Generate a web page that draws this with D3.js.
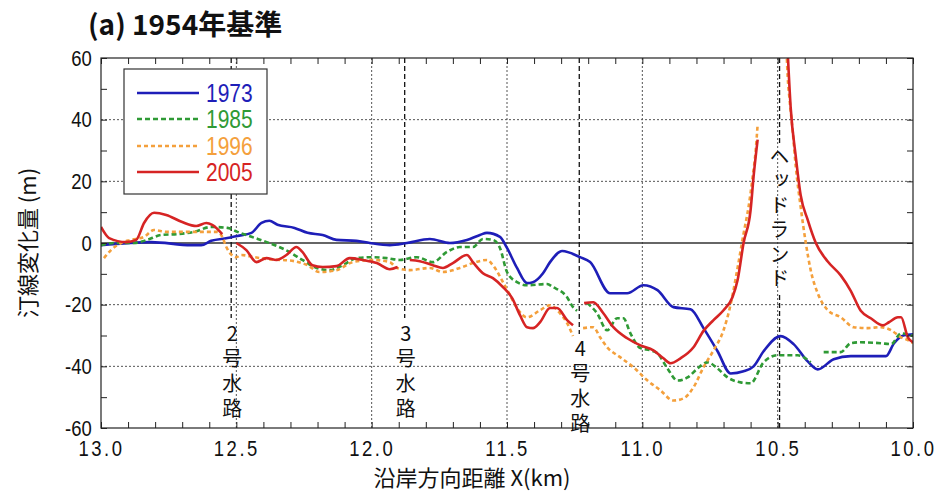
<!DOCTYPE html>
<html><head><meta charset="utf-8">
<script src="https://cdn.jsdelivr.net/npm/d3@7/dist/d3.min.js"></script>
<style>body{margin:0;background:#fff}svg{display:block}
.vt{writing-mode:vertical-rl;text-orientation:upright;}</style>
</head><body>
<svg id="chart" width="940" height="491"></svg>
<script>
// ---------------- data ----------------
const years = ["1973", "1985", "1996", "2005"];
const seriesColors = ["#1e1eb8", "#2f9a35", "#f4a03c", "#d62424"];

// [X (km), shoreline change (m)]; null = gap
const s1973 = [[13.0,-0.7],[12.815,0.3],[12.667,-0.7],[12.63,-0.7],[12.593,0.7],[12.533,1.6],[12.496,2.3],[12.444,3.3],[12.407,6.5],[12.378,7.2],[12.348,5.9],[12.285,4.9],[12.237,3.3],[12.181,2.6],[12.13,1.0],[12.056,0.7],[12.007,0],[11.933,-0.7],[11.87,0],[11.785,1.3],[11.711,0],[11.648,1.0],[11.6,2.6],[11.574,3.3],[11.526,2.0],[11.5,-1.6],[11.463,-8.1],[11.426,-13.0],[11.404,-12.7],[11.367,-9.8],[11.341,-6.2],[11.296,-2.6],[11.23,-4.6],[11.193,-6.2],[11.119,-16.3],[11.056,-16.3],[10.996,-13.7],[10.944,-15.3],[10.885,-20.8],[10.822,-21.5],[10.774,-27.6],[10.722,-35.1],[10.674,-42.3],[10.626,-41.6],[10.589,-40.0],[10.552,-35.1],[10.489,-30.2],[10.441,-32.8],[10.389,-38.4],[10.352,-41.0],[10.293,-37.7],[10.23,-36.7],[10.1,-36.7],[10.07,-32.5],[10.033,-29.9],[10.0,-29.6]];

const s1985 = [[13.0,-0.7],[12.952,0],[12.878,0],[12.83,1.0],[12.778,2.6],[12.719,2.9],[12.656,3.6],[12.593,5.2],[12.533,4.9],[12.496,3.6],[12.444,2.0],[12.378,0],[12.304,-2.9],[12.256,-5.5],[12.204,-8.1],[12.156,-8.8],[12.107,-7.2],[12.056,-4.9],[11.996,-4.6],[11.944,-4.9],[11.896,-5.5],[11.833,-4.6],[11.774,-6.2],[11.722,-2.9],[11.674,-1.3],[11.626,-1.3],[11.589,1.3],[11.552,1.0],[11.526,-1.6],[11.5,-9.4],[11.463,-12.7],[11.426,-13.7],[11.352,-13.3],[11.33,-14.3],[11.278,-17.6],[11.256,-20.8],[11.241,-22.0],[11.225,null],[11.204,-19.5],[11.167,-22.8],[11.13,-28.3],[11.093,-24.4],[11.07,-24.4],[11.044,-29.3],[11.007,-34.1],[10.97,-34.8],[10.944,-35.8],[10.907,-40.7],[10.87,-44.6],[10.833,-43.6],[10.796,-40.7],[10.759,-38.7],[10.722,-40.7],[10.685,-43.6],[10.637,-45.2],[10.6,-45.5],[10.552,-38.7],[10.5,-36.4],[10.426,-36.4],[10.378,-38.7],[10.355,null],[10.33,-35.4],[10.267,-35.4],[10.23,-32.5],[10.193,-32.2],[10.119,-32.5],[10.081,-32.8],[10.044,-29.3],[10.0,-30.2]];

const s1996 = [[12.989,-4.9],[12.963,-2.3],[12.926,0],[12.889,1.0],[12.841,2.0],[12.804,4.2],[12.756,3.6],[12.704,3.6],[12.619,3.6],[12.57,3.6],[12.552,2.0],[12.537,-1.3],[12.5,-4.6],[12.481,-3.9],[12.433,-4.6],[12.385,-5.2],[12.333,-5.5],[12.285,-5.9],[12.237,-7.2],[12.193,-9.4],[12.13,-8.8],[12.07,-6.2],[11.996,-5.5],[11.933,-6.2],[11.907,-8.1],[11.859,-8.8],[11.785,-8.1],[11.737,-9.4],[11.674,-8.1],[11.626,-6.5],[11.574,-5.5],[11.552,-7.2],[11.515,-12.7],[11.489,-16.9],[11.463,-21.1],[11.426,-24.1],[11.378,-21.8],[11.341,-20.2],[11.304,-22.8],[11.278,-26.0],[11.256,-30.2],[11.235,null],[11.219,-27.6],[11.181,-27.3],[11.156,-30.6],[11.13,-33.8],[11.081,-37.1],[11.033,-40.3],[10.981,-44.6],[10.933,-47.8],[10.885,-51.1],[10.848,-50.4],[10.811,-46.8],[10.774,-40.3],[10.737,-34.8],[10.7,-28.3],[10.674,-20.0],[10.648,-8.0],[10.626,3.0],[10.607,12.0],[10.593,21.0],[10.581,30.2],[10.574,38.4],[10.52,null],[10.467,62],[10.463,54],[10.456,46.5],[10.444,35.8],[10.433,24.7],[10.415,11.7],[10.396,0],[10.378,-8.8],[10.352,-16.3],[10.315,-21.8],[10.267,-24.1],[10.219,-27.3],[10.167,-27.6],[10.119,-27.3],[10.081,-28.3],[10.044,-30.6],[10.019,-31.5],[10.0,-32.5]];

const s2005 = [[13.0,5.2],[12.97,1.6],[12.907,0.3],[12.87,1.0],[12.841,6.5],[12.804,9.8],[12.759,9.1],[12.7,6.8],[12.648,5.5],[12.611,6.5],[12.589,5.9],[12.552,2.9],[12.525,null],[12.5,0],[12.463,-2.3],[12.426,-6.2],[12.389,-4.9],[12.352,-5.5],[12.315,-3.9],[12.278,-1.3],[12.256,-2.9],[12.219,-7.2],[12.181,-7.8],[12.13,-7.5],[12.081,-4.9],[12.033,-5.5],[11.981,-6.5],[11.933,-8.5],[11.904,-7.8],[11.88,null],[11.859,-5.5],[11.822,-5.9],[11.774,-7.2],[11.737,-8.1],[11.7,-6.5],[11.648,-3.9],[11.626,-6.2],[11.589,-9.8],[11.552,-11.4],[11.515,-14.3],[11.481,-17.9],[11.452,-23.4],[11.426,-27.3],[11.404,-27.6],[11.378,-25.7],[11.341,-21.1],[11.315,-21.1],[11.278,-25.0],[11.256,-26.7],[11.235,null],[11.215,-19.5],[11.181,-19.2],[11.144,-22.8],[11.107,-27.3],[11.056,-30.9],[11.007,-33.2],[10.959,-34.8],[10.922,-37.4],[10.896,-39.0],[10.859,-37.4],[10.811,-33.8],[10.774,-28.5],[10.737,-25.0],[10.7,-21.8],[10.667,-17.6],[10.648,-12.0],[10.626,0],[10.6,10.7],[10.589,21.5],[10.574,33.5],[10.52,null],[10.463,62],[10.452,44.0],[10.433,28.0],[10.415,15.5],[10.389,7.5],[10.359,0],[10.315,-6.0],[10.267,-10.5],[10.23,-15.5],[10.193,-22.0],[10.156,-24.4],[10.111,-26.7],[10.089,-25.7],[10.056,-24.1],[10.044,-24.1],[10.019,-30.6],[10.0,-32.2]];

const seriesData = [s1973, s1985, s1996, s2005];

const xMajorTicks = [13.0, 12.5, 12.0, 11.5, 11.0, 10.5, 10.0];
const xTickLabels = ["13.0", "12.5", "12.0", "11.5", "11.0", "10.5", "10.0"];
const yMajorTicks = [-60, -40, -20, 0, 20, 40, 60];
const yTickLabels = ["-60", "-40", "-20", "0", "20", "40", "60"];

const channelX = [12.519, 11.878, 11.233];
const channelLabels = ["2号水路", "3号水路", "4号水路"];
const headlandX = 10.493;
const headlandLabel = "ヘッドランド";

const titleText = "(a) 1954年基準";
const xTitle = "沿岸方向距離 X(km)";
const yTitle = "汀線変化量 (m)";

// ---------------- drawing ----------------
const svg = d3.select("#chart");
const L = 101, R = 913, T = 58, B = 428;
const x = d3.scaleLinear().domain([13, 10]).range([L, R]);
const y = d3.scaleLinear().domain([-60, 60]).range([B, T]);

const numFont = "'Liberation Sans','Arial',sans-serif";
const jpFont = "'Noto Sans CJK JP','Noto Sans',sans-serif";
const SX = 0.84; // horizontal condensing of numerals

svg.append("defs").append("clipPath").attr("id", "clip")
  .append("rect").attr("x", L).attr("y", T).attr("width", R - L).attr("height", B - T);

// grid
const grid = svg.append("g");
grid.selectAll("line.vg").data(xMajorTicks.slice(1, -1)).join("line")
  .attr("x1", d => x(d)).attr("x2", d => x(d)).attr("y1", T).attr("y2", B)
  .attr("stroke", "#555").attr("stroke-width", 1).attr("stroke-dasharray", "2,2");
grid.selectAll("line.hg").data(yMajorTicks.filter(d => d !== 0 && Math.abs(d) !== 60)).join("line")
  .attr("x1", L).attr("x2", R).attr("y1", d => y(d)).attr("y2", d => y(d))
  .attr("stroke", "#555").attr("stroke-width", 1).attr("stroke-dasharray", "2,2");
grid.append("line").attr("x1", L).attr("x2", R).attr("y1", y(0)).attr("y2", y(0))
  .attr("stroke", "#333").attr("stroke-width", 1.6);

// channel dashed lines
const ch = svg.append("g");
const chLabelTop = [318, 318, 334];
channelX.forEach((cx, i) => {
  ch.append("line").attr("x1", x(cx)).attr("x2", x(cx)).attr("y1", T).attr("y2", chLabelTop[i])
    .attr("stroke", "#111").attr("stroke-width", 1.3).attr("stroke-dasharray", "5,3");
});
ch.append("line").attr("x1", x(headlandX)).attr("x2", x(headlandX)).attr("y1", T).attr("y2", 143)
  .attr("stroke", "#111").attr("stroke-width", 1.3).attr("stroke-dasharray", "5,3");
ch.append("line").attr("x1", x(headlandX)).attr("x2", x(headlandX)).attr("y1", 295).attr("y2", B)
  .attr("stroke", "#111").attr("stroke-width", 1.3).attr("stroke-dasharray", "5,3");

// series
const dashes = [null, "5,3", "4,3", null];
const line = d3.line().defined(d => d[1] !== null)
  .x(d => x(d[0])).y(d => y(d[1])).curve(d3.curveMonotoneX);
const plot = svg.append("g").attr("clip-path", "url(#clip)");
seriesData.forEach((s, i) => {
  plot.append("path").datum(s).attr("d", line)
    .attr("fill", "none").attr("stroke", seriesColors[i])
    .attr("stroke-width", 2.6)
    .attr("stroke-linejoin", "round")
    .attr("stroke-dasharray", dashes[i]);
});

// axes
const xMinor = d3.range(0, 31).map(i => +(13 - i * 0.1).toFixed(1));
const yMinor = d3.range(-60, 61, 10);
const fmtX = d => { const k = xMajorTicks.indexOf(d); return k >= 0 ? xTickLabels[k] : ""; };
const fmtY = d => { const k = yMajorTicks.indexOf(d); return k >= 0 ? yTickLabels[k] : ""; };

const gx = svg.append("g").attr("transform", `translate(0,${B})`)
  .call(d3.axisBottom(x).tickValues(xMinor).tickFormat(fmtX).tickSizeInner(-6).tickSizeOuter(0).tickPadding(12));
const gxt = svg.append("g").attr("transform", `translate(0,${T})`)
  .call(d3.axisTop(x).tickValues(xMinor).tickFormat("").tickSizeInner(-6).tickSizeOuter(0));
const gy = svg.append("g").attr("transform", `translate(${L},0)`)
  .call(d3.axisLeft(y).tickValues(yMinor).tickFormat(fmtY).tickSizeInner(-6).tickSizeOuter(0).tickPadding(11));
const gyr = svg.append("g").attr("transform", `translate(${R},0)`)
  .call(d3.axisRight(y).tickValues(yMinor).tickFormat("").tickSizeInner(-6).tickSizeOuter(0));
[gx, gxt, gy, gyr].forEach(g => {
  g.select(".domain").remove();
  g.selectAll(".tick line").attr("stroke", "#222").attr("stroke-width", 1);
  g.selectAll("text").attr("font-family", numFont).attr("font-size", 22).attr("fill", "#111")
    .attr("transform", `scale(${SX},1)`);
});
gx.selectAll("text").attr("letter-spacing", 3);
svg.append("rect").attr("x", L).attr("y", T).attr("width", R - L).attr("height", B - T)
  .attr("fill", "none").attr("stroke", "#222").attr("stroke-width", 1.2);

// channel / headland labels: vertical text, upright glyphs
const lab = svg.append("g").attr("font-family", jpFont).attr("font-size", 20).attr("fill", "#111");
const chLabelStart = [323, 323, 338];
channelLabels.forEach((s, i) => {
  lab.append("text").attr("class", "vt").attr("x", x(channelX[i]) + 1).attr("y", chLabelStart[i])
    .attr("letter-spacing", 5).text(s);
});
lab.append("text").attr("class", "vt").attr("x", x(headlandX)).attr("y", 146)
  .attr("letter-spacing", 4.5).text(headlandLabel);

// legend
const lg = svg.append("g");
lg.append("rect").attr("x", 124).attr("y", 69).attr("width", 143).attr("height", 125)
  .attr("fill", "#fff").attr("stroke", "#333").attr("stroke-width", 1.2);
const legY = [93, 119, 146, 172];
years.forEach((yr, i) => {
  lg.append("line").attr("x1", 137).attr("x2", 199).attr("y1", legY[i]).attr("y2", legY[i])
    .attr("stroke", seriesColors[i]).attr("stroke-width", 2.6).attr("stroke-dasharray", dashes[i]);
  lg.append("text").attr("x", 206 / SX).attr("y", legY[i]).attr("dy", "0.36em")
    .attr("transform", `scale(${SX},1)`)
    .attr("font-family", numFont).attr("font-size", 25).attr("fill", seriesColors[i]).text(yr);
});

// titles
svg.append("text").attr("x", 88).attr("y", 35).attr("font-family", jpFont)
  .attr("font-weight", "bold").attr("font-size", 28).attr("fill", "#111").text(titleText);
svg.append("text").attr("x", 472).attr("y", 486).attr("text-anchor", "middle")
  .attr("font-family", jpFont).attr("font-size", 22).attr("fill", "#111").text(xTitle);
svg.append("text").attr("transform", "translate(36,243) rotate(-90)").attr("text-anchor", "middle")
  .attr("font-family", jpFont).attr("font-size", 22).attr("fill", "#111").text(yTitle);
</script>
</body></html>
